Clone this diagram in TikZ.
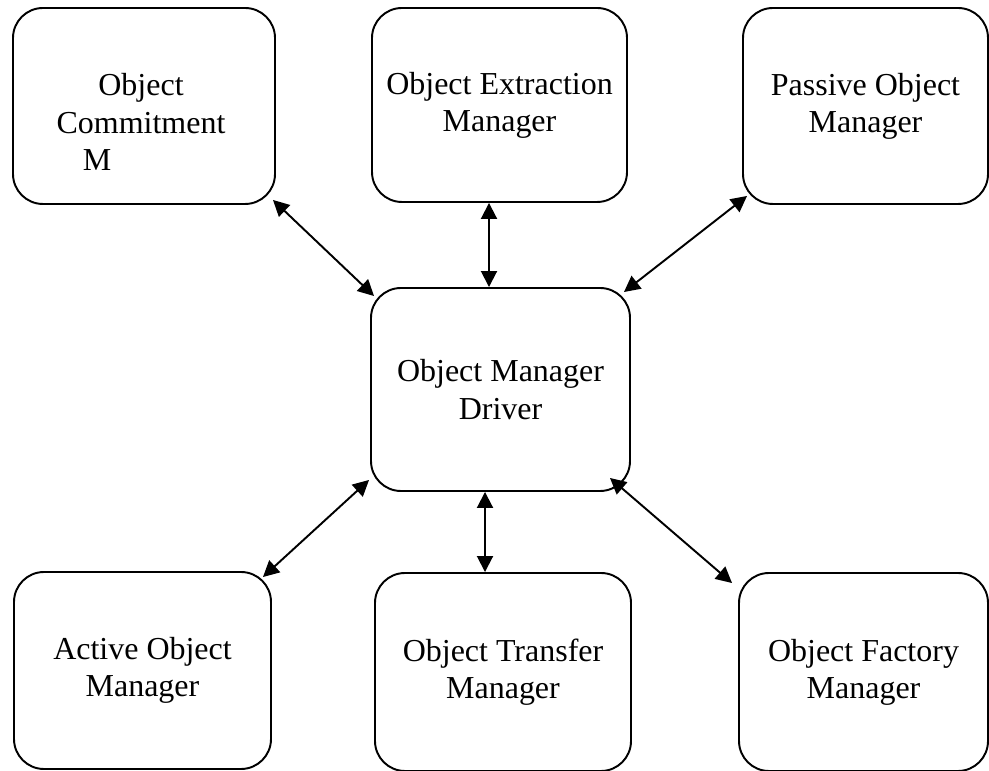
\documentclass[tikz,border=0pt]{standalone}
\usepackage{fontspec}
\setmainfont{Liberation Serif}
\usepackage{tikz}
\usetikzlibrary{arrows.meta,positioning}

\begin{document}
\begin{tikzpicture}[
  mgr/.style={draw, line width=1.1pt, rounded corners=0.6cm, align=center,
    font=\fontsize{18.2}{21.2}\selectfont},
  link/.style={line width=1.1pt, {Triangle[length=0.32cm,width=0.32cm]}-{Triangle[length=0.32cm,width=0.32cm]}},
  txt/.style={align=center, font=\fontsize{18.2}{21.2}\selectfont}]

\useasboundingbox (0,0) rectangle (19.78,15.42);
\clip (0,0) rectangle (19.78,15.42);

% top row
\node[mgr, minimum width=5.24cm, minimum height=3.92cm] (ocm) at (2.88,13.30) { };
\node[txt] (ocmtext) at (2.82,12.98) {Object\\Commitment\\\hspace*{-1.76cm}M};

\node[mgr, minimum width=5.10cm, minimum height=3.88cm] (oem) at (9.99,13.32) {Object Extraction\\Manager};
\node[mgr, minimum width=4.90cm, minimum height=3.92cm] (opm) at (17.31,13.30) {Passive Object\\Manager};

% driver
\node[mgr, minimum width=5.18cm, minimum height=4.06cm] (omd) at (10.01,7.63) {Object Manager\\Driver};

% bottom row
\node[mgr, minimum width=5.14cm, minimum height=3.94cm] (oam) at (2.85,2.01) {Active Object\\Manager};
\node[mgr, minimum width=5.12cm, minimum height=3.96cm] (otm) at (10.06,1.98) {Object Transfer\\Manager};
\node[mgr, minimum width=4.98cm, minimum height=3.96cm] (ofm) at (17.27,1.98) {Object Factory\\Manager};

\draw[link] ([shift={(-0.06,0.10)}]ocm.south east) -- ([shift={(0.08,-0.18)}]omd.north west);
\draw[link] ([xshift=-0.21cm]oem.south) -- ([xshift=-0.23cm]omd.north);
\draw[link] ([shift={(0.10,0.18)}]opm.south west) -- ([shift={(-0.14,-0.10)}]omd.north east);

\draw[link] ([shift={(-0.02,0.24)}]omd.south west) -- ([shift={(-0.18,-0.12)}]oam.north east);
\draw[link] ([xshift=-0.31cm]omd.south) -- ([xshift=-0.36cm]otm.north);
\draw[link] ([shift={(-0.42,0.28)}]omd.south east) -- ([shift={(-0.12,-0.22)}]ofm.north west);

\end{tikzpicture}
\end{document}
